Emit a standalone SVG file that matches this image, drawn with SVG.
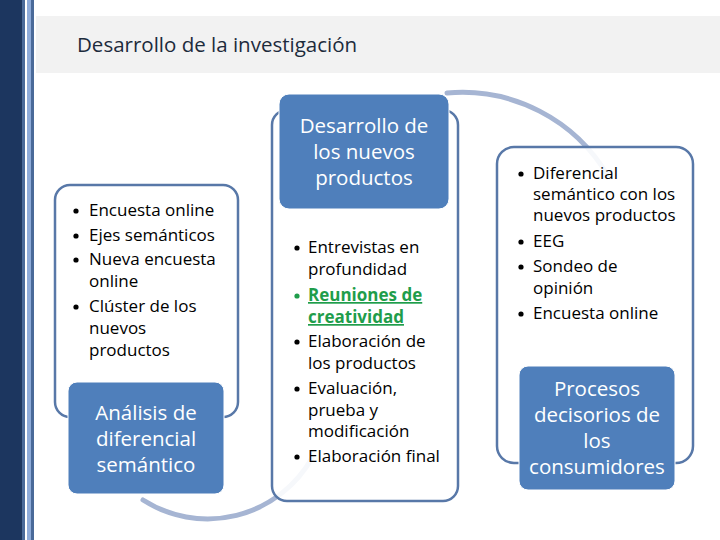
<svg xmlns="http://www.w3.org/2000/svg" width="720" height="540" viewBox="0 0 720 540">
<defs>
<style>
.outline{fill:#ffffff;fill-opacity:0.9;stroke:#5878a8;stroke-width:2.5}
.node{fill:#4f7fbb;stroke:#ffffff;stroke-width:1}
.ntext{font-family:"Open Sans","Liberation Sans",sans-serif;font-size:20.5px;fill:#ffffff;text-anchor:middle}
.btext{font-family:"Open Sans","Liberation Sans",sans-serif;font-size:17px;fill:#000000}
.dot{fill:#000000}
.arc{fill:none;stroke:#a6b5d3;stroke-width:5;stroke-linecap:round}
.green{fill:#1f9d4b;font-weight:bold;text-decoration:underline}
</style>
</defs>
<rect x="0" y="0" width="720" height="540" fill="#ffffff"/>
<g id="stripe">
<rect x="0" y="0" width="22" height="540" fill="#1c365f"/>
<rect x="22" y="0" width="3" height="540" fill="#4a6a99"/>
<rect x="27" y="0" width="4" height="540" fill="#8eabd9"/>
<rect x="31" y="0" width="3" height="540" fill="#4a6a99"/>
</g>
<g id="title">
<rect x="36" y="16" width="684" height="57" fill="#f2f2f2"/>
<text x="77" y="52" font-family="Open Sans, Liberation Sans, sans-serif" font-size="20.5" fill="#1d2b3c">Desarrollo de la investigación</text>
</g>
<g id="connectors">
<path class="arc" d="M143,500 A120,120 0 0 0 312,458"/>
<path class="arc" d="M447,93 A169,169 0 0 1 608,176"/>
</g>
<g id="left">
<rect class="outline" x="55" y="185" width="183" height="232" rx="15"/>
<g class="dot">
<circle cx="76" cy="211" r="2.6"/><circle cx="76" cy="236" r="2.6"/><circle cx="76" cy="260" r="2.6"/><circle cx="76" cy="307" r="2.6"/>
</g>
<g class="btext">
<text x="89" y="216">Encuesta online</text>
<text x="89" y="241">Ejes semánticos</text>
<text x="89" y="265">Nueva encuesta</text>
<text x="89" y="287">online</text>
<text x="89" y="312">Clúster de los</text>
<text x="89" y="334">nuevos</text>
<text x="89" y="356">productos</text>
</g>
<rect class="node" x="68" y="382" width="156" height="112" rx="9"/>
<text class="ntext" x="146" y="420">Análisis de</text>
<text class="ntext" x="146" y="446">diferencial</text>
<text class="ntext" x="146" y="472">semántico</text>
</g>
<g id="middle">
<rect class="outline" x="272" y="110" width="186" height="391" rx="15"/>
<g class="dot">
<circle cx="297" cy="248" r="2.6"/><circle cx="297" cy="296" r="2.6" fill="#1f9d4b"/><circle cx="297" cy="342" r="2.6"/><circle cx="297" cy="389" r="2.6"/><circle cx="297" cy="457" r="2.6"/>
</g>
<g class="btext">
<text x="308" y="253">Entrevistas en</text>
<text x="308" y="275">profundidad</text>
<text x="308" y="301" class="green">Reuniones de</text>
<text x="308" y="323" class="green">creatividad</text>
<text x="308" y="347">Elaboración de</text>
<text x="308" y="369">los productos</text>
<text x="308" y="394">Evaluación,</text>
<text x="308" y="416">prueba y</text>
<text x="308" y="437">modificación</text>
<text x="308" y="462">Elaboración final</text>
</g>
<rect class="node" x="279" y="94" width="170" height="115" rx="10"/>
<text class="ntext" x="364" y="133">Desarrollo de</text>
<text class="ntext" x="364" y="159">los nuevos</text>
<text class="ntext" x="364" y="185">productos</text>
</g>
<g id="right">
<rect class="outline" x="497" y="147" width="196" height="316" rx="17"/>
<g class="dot">
<circle cx="521" cy="174" r="2.6"/><circle cx="521" cy="242" r="2.6"/><circle cx="521" cy="267" r="2.6"/><circle cx="521" cy="314" r="2.6"/>
</g>
<g class="btext">
<text x="533" y="179">Diferencial</text>
<text x="533" y="200">semántico con los</text>
<text x="533" y="221">nuevos productos</text>
<text x="533" y="247">EEG</text>
<text x="533" y="272">Sondeo de</text>
<text x="533" y="294">opinión</text>
<text x="533" y="319">Encuesta online</text>
</g>
<rect class="node" x="519" y="366" width="156" height="124" rx="9"/>
<text class="ntext" x="597" y="396">Procesos</text>
<text class="ntext" x="597" y="422">decisorios de</text>
<text class="ntext" x="597" y="448">los</text>
<text class="ntext" x="597" y="474">consumidores</text>
</g>
</svg>
